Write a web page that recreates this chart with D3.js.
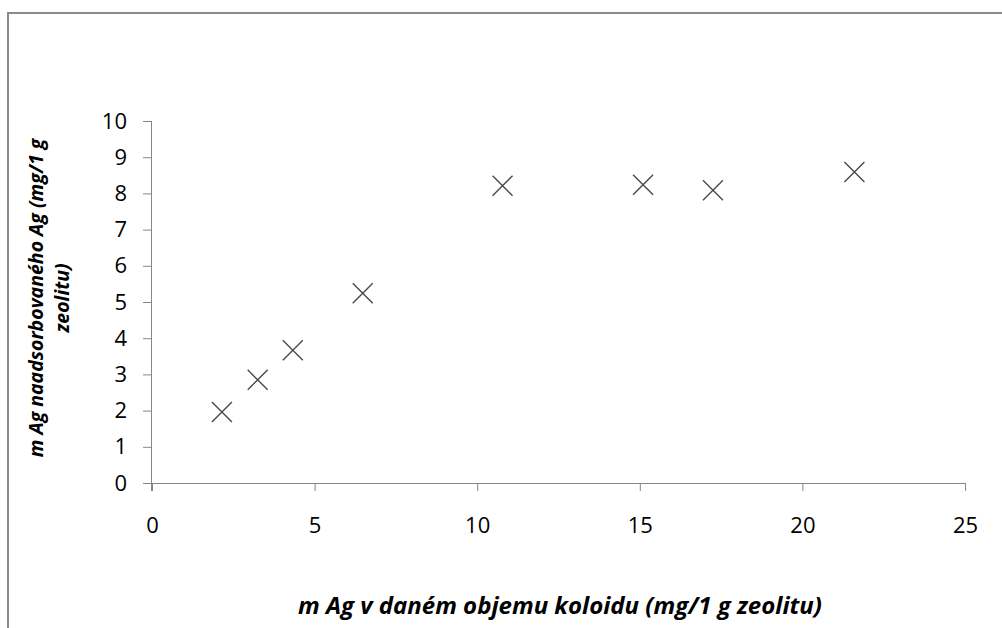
<!DOCTYPE html>
<html>
<head>
<meta charset="utf-8">
<style>
body { margin: 0; background: #fff; }
svg text { font-family: "Open Sans", sans-serif; fill: #000; }
.axis .domain, .axis line { stroke: #868686; }
</style>
</head>
<body>
<svg width="1002" height="628"></svg>
<script src="https://cdn.jsdelivr.net/npm/d3@7"></script>
<script>
// data
var silverGiven = [2.15, 3.25, 4.33, 6.48, 10.78, 15.1, 17.25, 21.6];
var silverAdsorbed = [1.96, 2.85, 3.67, 5.24, 8.21, 8.24, 8.09, 8.59];
var xTicks = [0, 5, 10, 15, 20, 25];
var yTicks = [0, 1, 2, 3, 4, 5, 6, 7, 8, 9, 10];
var xTitle = "m Ag v daném objemu koloidu (mg/1 g zeolitu)";
var yTitle = ["m Ag naadsorbovaného Ag (mg/1 g", "zeolitu)"];

var svg = d3.select("svg"),
    margin = {top: 121, right: 37, bottom: 145, left: 152};

var x = d3.scaleLinear().domain([0, 25]).range([margin.left, 1002 - margin.right]);
var y = d3.scaleLinear().domain([0, 10]).range([628 - margin.bottom, margin.top]);

// outer chart border
svg.append("rect")
    .attr("x", 8).attr("y", 13)
    .attr("width", 1020).attr("height", 640)
    .attr("fill", "none")
    .attr("stroke", "#8a8a8a")
    .attr("stroke-width", 2);

var xAxis = svg.append("g")
    .attr("class", "axis")
    .attr("transform", "translate(0," + y(0) + ")")
    .call(d3.axisBottom(x).tickValues(xTicks).tickSize(8).tickSizeOuter(0).tickPadding(26));
xAxis.select(".domain").attr("d", "M" + (x(0) - 9) + ",0.5H" + x(25));
xAxis.selectAll("text").style("font-size", "22px");

var yAxis = svg.append("g")
    .attr("class", "axis")
    .attr("transform", "translate(" + x(0) + ",0)")
    .call(d3.axisLeft(y).tickValues(yTicks).tickSize(9).tickSizeOuter(0).tickPadding(16));
yAxis.select(".domain").attr("d", "M-0.5," + y(10) + "V" + (y(0) + 8));
yAxis.selectAll("text").style("font-size", "22px");

// markers: x shaped
var r = 10;
svg.append("g")
    .attr("stroke", "#4a4a4a")
    .attr("stroke-width", 1.4)
    .attr("fill", "none")
  .selectAll("path")
  .data(silverGiven)
  .enter().append("path")
    .attr("d", function(d, i) {
      var cx = x(d), cy = y(silverAdsorbed[i]);
      return "M" + (cx - r) + "," + (cy - r) + "L" + (cx + r) + "," + (cy + r) +
             "M" + (cx - r) + "," + (cy + r) + "L" + (cx + r) + "," + (cy - r);
    });

svg.append("text")
    .attr("x", 560)
    .attr("y", 614)
    .attr("text-anchor", "middle")
    .style("font-size", "24px")
    .style("font-weight", "bold")
    .style("font-style", "italic")
    .text(xTitle);

svg.append("g")
    .attr("transform", "translate(43,298) rotate(-90)")
  .selectAll("text")
  .data(yTitle)
  .enter().append("text")
    .attr("x", 0)
    .attr("y", function(d, i) { return i * 26; })
    .attr("text-anchor", "middle")
    .style("font-size", "19.5px")
    .style("font-weight", "bold")
    .style("font-style", "italic")
    .text(function(d) { return d; });
</script>
</body>
</html>
